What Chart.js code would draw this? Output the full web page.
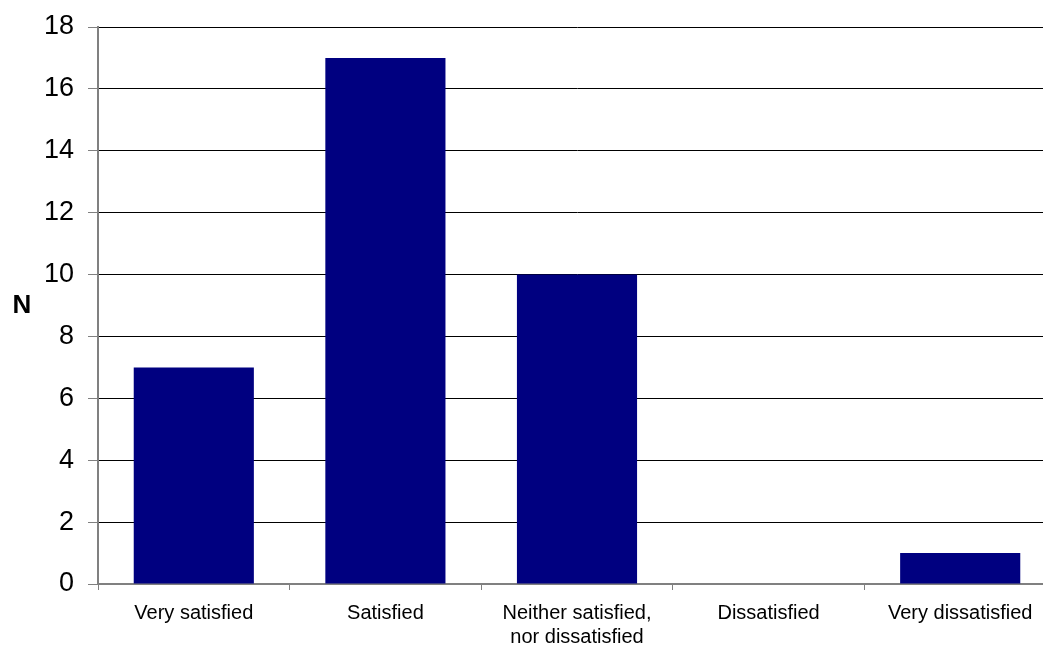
<!DOCTYPE html>
<html>
<head>
<meta charset="utf-8">
<script src="https://cdn.jsdelivr.net/npm/chart.js@4/dist/chart.umd.min.js"></script>
<style>
  html, body { margin: 0; padding: 0; background: #fff; }
  #wrap { width: 1043px; height: 648px; overflow: hidden; }
</style>
</head>
<body>
<div id="wrap">
  <canvas id="chart" width="1056" height="648"></canvas>
</div>
<script>
// chart data
const categories = ['Very satisfied', 'Satisfied', ['Neither satisfied,', 'nor dissatisfied'], 'Dissatisfied', 'Very dissatisfied'];
const counts = [7, 17, 10, 0, 1];
const yMin = 0;
const yMax = 18;
const yStep = 2;
const yTitle = 'N';

const fontFamily = '"Liberation Sans", Arial, sans-serif';

// draws the horizontal "N" axis title
const yTitlePlugin = {
    id: 'yTitle',
    afterDraw(chart) {
        const { ctx, chartArea } = chart;
        ctx.save();
        ctx.font = 'bold 26px ' + fontFamily;
        ctx.fillStyle = '#000';
        ctx.textAlign = 'center';
        ctx.textBaseline = 'middle';
        ctx.fillText(yTitle, 22, (chartArea.top + chartArea.bottom) / 2);
        ctx.restore();
    }
};

new Chart(document.getElementById('chart'), {
    type: 'bar',
    data: {
        labels: categories,
        datasets: [{
            label: yTitle,
            data: counts,
            backgroundColor: '#000080',
            barPercentage: 0.627,
            categoryPercentage: 1
        }]
    },
    options: {
        responsive: false,
        animation: false,
        layout: { padding: { top: 27, right: 0, bottom: 0, left: 0 } },
        plugins: {
            legend: { display: false },
            tooltip: { enabled: false }
        },
        scales: {
            x: {
                offset: true,
                grid: {
                    drawOnChartArea: false,
                    tickLength: 6,
                    tickColor: '#808080',
                    offset: true
                },
                border: { color: '#808080', width: 2 },
                ticks: {
                    color: '#000',
                    padding: 11,
                    maxRotation: 0,
                    autoSkip: false,
                    font: { family: fontFamily, size: 20, lineHeight: 1.2 }
                },
                afterFit: scale => { scale.height = 64; }
            },
            y: {
                min: yMin,
                max: yMax,
                ticks: {
                    stepSize: yStep,
                    color: '#000',
                    padding: 14,
                    font: { family: fontFamily, size: 27, lineHeight: 1 }
                },
                grid: {
                    color: ctx => ctx.tick && ctx.tick.value === 0 ? 'rgba(0,0,0,0)' : '#000',
                    lineWidth: 1,
                    tickLength: 10,
                    tickColor: '#808080'
                },
                border: { color: '#808080', width: 2 },
                afterFit: scale => {
                    scale.width = 98;
                    scale.paddingTop = 0;
                    scale.paddingBottom = 0;
                }
            }
        }
    },
    plugins: [yTitlePlugin]
});
</script>
</body>
</html>
